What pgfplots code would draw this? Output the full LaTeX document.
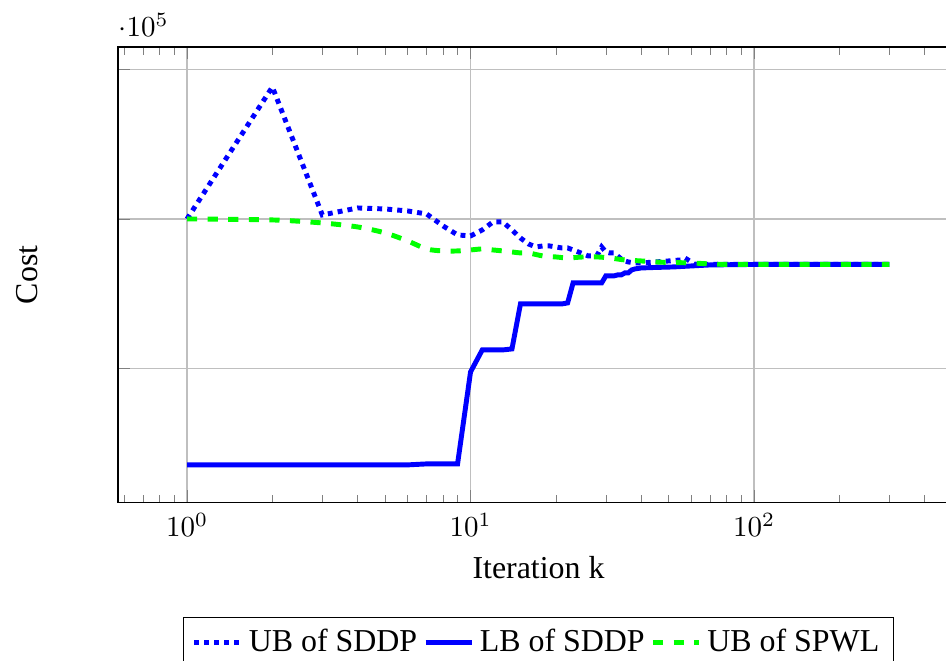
\documentclass[border=0pt]{standalone}
\usepackage{fontspec}
\setmainfont{Liberation Serif}
\usepackage{pgfplots}
\usepackage{pgfplotstable}
\pgfplotsset{compat=1.18}

% Upper bound of SDDP per iteration
\pgfplotstableread{
k v
1 150000
2 194150
3 151340
4 153680
5 153340
6 152680
7 151670
8 147660
9 144650
10 144310
11 146320
12 149000
13 149000
14 146320
15 143640
16 141640
17 140640
18 140970
19 140970
20 140640
21 140300
22 140300
23 139630
24 138960
25 138290
26 137630
27 137630
28 137960
29 140640
30 138960
31 138630
32 138630
33 137630
34 136620
35 135950
36 135620
38 135280
40 135280
45 135620
50 135950
55 136290
57 136960
62 134800
70 134800
100 134800
200 134800
300 134800
}\ubsddp

% Lower bound of SDDP per iteration
\pgfplotstableread{
k v
1 67730
2 67730
3 67730
4 67730
5 67730
6 67730
7 68060
8 68060
9 68060
10 98830
11 106190
12 106190
13 106190
14 106520
15 121570
16 121570
17 121570
18 121570
19 121570
20 121570
21 121570
22 121910
23 128600
24 128600
25 128600
26 128600
27 128600
28 128600
29 128600
30 130940
31 130940
32 130940
33 131270
34 131270
35 131940
36 131940
37 132940
38 133280
40 133610
45 133780
52 133950
60 134280
70 134620
100 134780
200 134800
300 134800
}\lbsddp

% Upper bound of SPWL per iteration
\pgfplotstableread{
k v
1 150000
2 149670
3 148660
4 147320
5 145320
6 142640
7 139970
8 139300
9 139300
10 139630
11 139970
12 139630
13 139300
14 138960
15 138630
16 138630
18 137630
20 137290
22 136960
25 137290
28 137290
31 136960
35 136290
40 135950
45 135620
50 135450
60 135280
70 134950
80 134800
100 134800
200 134800
300 134800
}\ubspwl

\begin{document}
\begin{tikzpicture}
\begin{axis}[
  name=ax,
  scale only axis,
  width=290pt, height=157.2pt,
  xmode=log,
  xmin=0.571, xmax=528.6,
  ymin=55020, ymax=207530,
  ytick={100000,150000,200000},
  yticklabels={,,},
  scaled y ticks=false,
  extra description/.code={%
    \node[anchor=base west, inner sep=0pt] at ([yshift=3.5pt]axis description cs:0,1) {$\cdot 10^{5}$};},
  grid=major,
  xlabel={Iteration k},
  ylabel={Cost},
  xlabel style={font=\fontsize{11}{13}\selectfont},
  ylabel style={font=\fontsize{11}{13}\selectfont,
    at={(axis description cs:-0.0962,0.5)}, anchor=base, rotate=0},
  legend columns=3,
  legend style={at={(axis description cs:0.5,-0.25)}, anchor=north,
    font=\fontsize{11}{13}\selectfont, draw=black},
  legend image code/.code={%
    \draw[mark repeat=2,mark phase=2] plot coordinates {(0pt,0pt) (7.95pt,0pt) (15.9pt,0pt)};},
]
\addplot[blue, line width=1.7pt, dash pattern=on 1.7pt off 1.75pt] table[x=k,y=v] {\ubsddp};
\addlegendentry{UB of SDDP}
\addplot[blue, line width=1.7pt] table[x=k,y=v] {\lbsddp};
\addlegendentry{LB of SDDP}
\addplot[green, line width=1.7pt, dash pattern=on 3.5pt off 3.6pt, smooth] table[x=k,y=v] {\ubspwl};
\addlegendentry{UB of SPWL}
\end{axis}
\pgfresetboundingbox
\path[use as bounding box] ([xshift=-40.7pt,yshift=-54.5pt]ax.south west)
  rectangle ([xshift=285.5pt,yshift=173.4pt]ax.south west);
\end{tikzpicture}
\end{document}
